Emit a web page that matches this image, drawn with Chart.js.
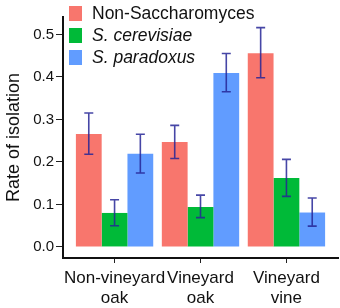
<!DOCTYPE html>
<html>
<head>
<meta charset="utf-8">
<script src="https://cdn.jsdelivr.net/npm/chart.js@4/dist/chart.umd.min.js"></script>
<style>
  html, body { margin: 0; padding: 0; background: #fff; }
  #wrap { width: 340px; height: 308px; }
</style>
</head>
<body>
<div id="wrap"><canvas id="isoChart"></canvas></div>
<script>
// categories (two lines each, like the original axis)
const categories = [['Non-vineyard', 'oak'], ['Vineyard', 'oak'], ['Vineyard', 'vine']];
const seriesNames = ['Non-Saccharomyces', 'S. cerevisiae', 'S. paradoxus'];
const seriesItalic = [false, true, true];
const seriesColors = ['#F8766D', '#00BA38', '#619CFF'];

// rates of isolation
const nonSacch = [0.266, 0.247, 0.456];
const cerevisiae = [0.080, 0.094, 0.162];
const paradoxus = [0.219, 0.409, 0.081];

// error bar ends
const nonSacchLow = [0.218, 0.208, 0.398];
const nonSacchHigh = [0.315, 0.286, 0.516];
const cerevisiaeLow = [0.050, 0.069, 0.119];
const cerevisiaeHigh = [0.111, 0.122, 0.206];
const paradoxusLow = [0.174, 0.365, 0.049];
const paradoxusHigh = [0.265, 0.455, 0.115];

const yTicks = [0, 0.1, 0.2, 0.3, 0.4, 0.5];

const allValues = [nonSacch, cerevisiae, paradoxus];
const lows = [nonSacchLow, cerevisiaeLow, paradoxusLow];
const highs = [nonSacchHigh, cerevisiaeHigh, paradoxusHigh];

const FONT = '"Liberation Sans", Arial, sans-serif';

const errorBars = {
    id: 'errorBars',
    afterDatasetsDraw(chart) {
        const ctx = chart.ctx;
        const y = chart.scales.y;
        ctx.save();
        ctx.strokeStyle = 'rgba(38, 38, 150, 0.85)';
        ctx.lineWidth = 1.6;
        chart.data.datasets.forEach((ds, i) => {
            const meta = chart.getDatasetMeta(i);
            meta.data.forEach((bar, j) => {
                const x = bar.x;
                const top = y.getPixelForValue(highs[i][j]);
                const bot = y.getPixelForValue(lows[i][j]);
                ctx.beginPath();
                ctx.moveTo(x, top); ctx.lineTo(x, bot);
                ctx.moveTo(x - 4.5, top); ctx.lineTo(x + 4.5, top);
                ctx.moveTo(x - 4.5, bot); ctx.lineTo(x + 4.5, bot);
                ctx.stroke();
            });
        });
        ctx.restore();
    }
};

// legend drawn in the top-left corner of the plot
const insideLegend = {
    id: 'insideLegend',
    afterDraw(chart) {
        const ctx = chart.ctx;
        ctx.save();
        ctx.textBaseline = 'middle';
        seriesNames.forEach((name, i) => {
            const cy = 13 + i * 22;
            ctx.fillStyle = seriesColors[i];
            ctx.fillRect(69, cy - 7, 13, 15);
            ctx.fillStyle = '#111';
            ctx.font = (seriesItalic[i] ? 'italic ' : '') + '17.5px ' + FONT;
            ctx.fillText(name, 92, cy + 1);
        });
        ctx.restore();
    }
};

new Chart(document.getElementById('isoChart'), {
    type: 'bar',
    data: {
        datasets: seriesNames.map((name, i) => ({
            label: name,
            data: allValues[i].map((v, j) => ({ x: j + 1, y: v })),
            backgroundColor: seriesColors[i],
            borderWidth: 0,
            categoryPercentage: 0.9,
            barPercentage: 1.0
        }))
    },
    options: {
        responsive: true,
        maintainAspectRatio: false,
        animation: false,
        layout: { padding: { top: 17, right: 2, left: 0, bottom: 0 } },
        plugins: {
            legend: { display: false },
            tooltip: { enabled: false }
        },
        scales: {
            x: {
                type: 'linear',
                min: 0.4,
                max: 3.6,
                offset: false,
                afterBuildTicks: s => { s.ticks = categories.map((c, i) => ({ value: i + 1 })); },
                afterFit: s => { s.height = 50; },
                ticks: {
                    callback: v => categories[v - 1],
                    color: '#111',
                    font: { family: FONT, size: 17, lineHeight: 1.2 },
                    padding: 5,
                    maxRotation: 0,
                    autoSkip: false
                },
                grid: { offset: false, drawOnChartArea: false, drawTicks: true, tickLength: 5, color: '#222', lineWidth: 1 },
                border: { display: true, color: '#111', width: 2 }
            },
            y: {
                min: -0.026,
                max: 0.541,
                afterBuildTicks: s => { s.ticks = yTicks.map(v => ({ value: v })); },
                afterFit: s => { s.width = 63; },
                ticks: {
                    callback: v => v.toFixed(1),
                    color: '#111',
                    font: { family: FONT, size: 15 },
                    padding: 2
                },
                grid: { drawOnChartArea: false, drawTicks: true, tickLength: 7, color: '#222', lineWidth: 1 },
                border: { display: true, color: '#111', width: 2 },
                title: {
                    display: true,
                    text: 'Rate of isolation',
                    color: '#111',
                    font: { family: FONT, size: 18 },
                    padding: { top: 3, bottom: 4 }
                }
            }
        }
    },
    plugins: [errorBars, insideLegend]
});
</script>
</body>
</html>
